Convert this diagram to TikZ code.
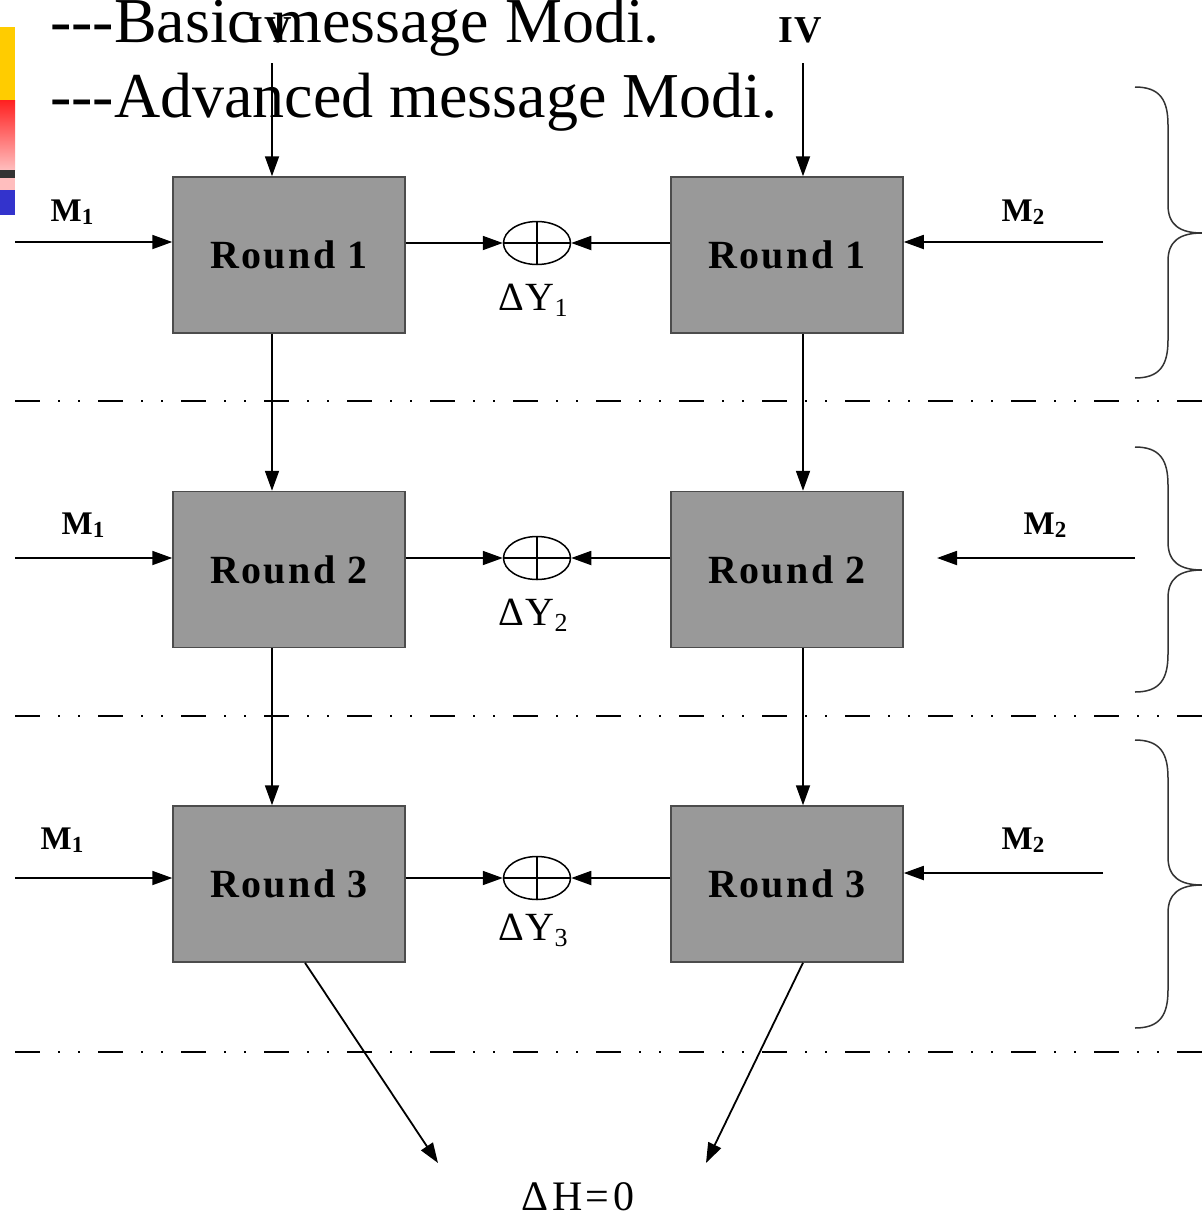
\documentclass[tikz,border=0pt]{standalone}
\usepackage{fontspec}
\setmainfont{Liberation Serif}
\usetikzlibrary{arrows.meta,shapes.geometric}
\definecolor{baryellow}{RGB}{255,204,0}
\definecolor{barred}{RGB}{255,32,32}
\definecolor{barpink}{RGB}{255,190,190}
\definecolor{barblue}{RGB}{51,51,204}
\begin{document}
\begin{tikzpicture}[x=1pt,y=-1pt,
  roundbox/.style={draw=black!70,line width=1.5pt,fill=black!40,minimum width=232pt,minimum height=156pt,inner sep=0pt,font=\fontsize{40}{42}\selectfont\bfseries\addfontfeatures{LetterSpace=6}},
  arr/.style={line width=1.8pt,-{Triangle[length=20pt,width=14pt]}},
  xorop/.style={draw,ellipse,line width=1.5pt,minimum width=67pt,minimum height=43pt,inner sep=0pt},
  mlab/.style={inner sep=0pt,font=\fontsize{33}{35}\selectfont\bfseries},
  dylab/.style={inner sep=0pt,font=\fontsize{40}{42}\selectfont\addfontfeatures{LetterSpace=4}},
  sepline/.style={line width=1.5pt,dash pattern=on 25pt off 18pt on 2pt off 18pt on 2pt off 18pt},
  bracepath/.style={line width=1.5pt,black!80},
  ivlab/.style={inner sep=0pt,font=\fontsize{38}{40}\selectfont\bfseries\addfontfeatures{LetterSpace=4}},
  toptext/.style={inner sep=0pt,anchor=base west,font=\fontsize{64}{66}\selectfont}
]
\useasboundingbox (0,0) rectangle (1202,1216);
\fill[white] (0,0) rectangle (1202,1216);
% colour bars
\fill[baryellow] (0,27) rectangle (15,100);
\shade[top color=barred,bottom color=barpink] (0,100) rectangle (15,170);
\fill[black!80] (0,170) rectangle (15,178);
\fill[barpink] (0,178) rectangle (15,190);
\fill[barblue] (0,190) rectangle (15,215);

% boxes
\node[roundbox] (L1) at (289,255) {Round 1};
\node[roundbox] (L2) at (289,569.5) {Round 2};
\node[roundbox] (L3) at (289,884) {Round 3};
\node[roundbox] (R1) at (787,255) {Round 1};
\node[roundbox] (R2) at (787,569.5) {Round 2};
\node[roundbox] (R3) at (787,884) {Round 3};

% xor
\node[xorop] (X1) at (537,243) {};
\node[xorop] (X2) at (537,558) {};
\node[xorop] (X3) at (537,878) {};
\foreach \x in {X1,X2,X3}{
  \draw[line width=1.5pt] (\x.north) -- (\x.south);
  \draw[line width=1.5pt] (\x.west) -- (\x.east);
}
\foreach \i in {1,2,3}{
  \draw[arr] (L\i.east |- X\i) -- (X\i.west);
  \draw[arr] (R\i.west |- X\i) -- (X\i.east);
}
\node[dylab] (DY1) at (533,300) {ΔY\raisebox{-6pt}{\fontsize{26}{26}\selectfont 1}};
\node[dylab] (DY2) at (533,615) {ΔY\raisebox{-6pt}{\fontsize{26}{26}\selectfont 2}};
\node[dylab] (DY3) at (533,930) {ΔY\raisebox{-6pt}{\fontsize{26}{26}\selectfont 3}};

% IV
\node[ivlab] (IVL) at (270,30) {IV};
\node[ivlab] (IVR) at (800,30) {IV};
\coordinate (ivl) at (272,63);
\coordinate (ivr) at (803,63);
\draw[arr] (ivl) -- (ivl |- L1.north);
\draw[arr] (ivr) -- (ivr |- R1.north);
\draw[arr] (L1.south -| ivl) -- (L2.north -| ivl);
\draw[arr] (L2.south -| ivl) -- (L3.north -| ivl);
\draw[arr] (R1.south -| ivr) -- (R2.north -| ivr);
\draw[arr] (R2.south -| ivr) -- (R3.north -| ivr);

% M1 inputs
\coordinate (m1a) at (15,242);
\coordinate (m1b) at (15,558);
\coordinate (m1c) at (15,878);
\draw[arr] (m1a) -- (m1a -| L1.west);
\draw[arr] (m1b) -- (m1b -| L2.west);
\draw[arr] (m1c) -- (m1c -| L3.west);
\node[mlab] (M1a) at (72,212) {M\raisebox{-3pt}{\fontsize{23}{23}\selectfont 1}};
\node[mlab] (M1b) at (83,525) {M\raisebox{-3pt}{\fontsize{23}{23}\selectfont 1}};
\node[mlab] (M1c) at (62,840) {M\raisebox{-3pt}{\fontsize{23}{23}\selectfont 1}};

% M2 inputs
\coordinate (m2a) at (1103,242);
\coordinate (m2b) at (1135,558);
\coordinate (m2bend) at (937,558);
\coordinate (m2c) at (1103,873);
\draw[arr] (m2a) -- (m2a -| R1.east);
\draw[arr] (m2b) -- (m2bend);
\draw[arr] (m2c) -- (m2c -| R3.east);
\node[mlab] (M2a) at (1023,212) {M\raisebox{-3pt}{\fontsize{23}{23}\selectfont 2}};
\node[mlab] (M2b) at (1045,525) {M\raisebox{-3pt}{\fontsize{23}{23}\selectfont 2}};
\node[mlab] (M2c) at (1023,840) {M\raisebox{-3pt}{\fontsize{23}{23}\selectfont 2}};

% separators
\draw[sepline] (15,401) -- (1202,401);
\draw[sepline] (15,716) -- (1202,716);
\draw[sepline] (15,1052) -- (1202,1052);

% braces
\draw[bracepath] (1135,87) .. controls (1160,87) and (1168,100) .. (1168,125) -- (1168,205) .. controls (1168,225) and (1180,233) .. (1202,233) .. controls (1180,233) and (1168,241) .. (1168,261) -- (1168,340) .. controls (1168,365) and (1160,378) .. (1135,378);
\draw[bracepath] (1135,447) .. controls (1160,447) and (1168,460) .. (1168,485) -- (1168,542) .. controls (1168,562) and (1180,570) .. (1202,570) .. controls (1180,570) and (1168,578) .. (1168,598) -- (1168,654) .. controls (1168,679) and (1160,692) .. (1135,692);
\draw[bracepath] (1135,740) .. controls (1160,740) and (1168,753) .. (1168,778) -- (1168,857) .. controls (1168,877) and (1180,885) .. (1202,885) .. controls (1180,885) and (1168,893) .. (1168,913) -- (1168,990) .. controls (1168,1015) and (1160,1028) .. (1135,1028);

% outputs
\coordinate (outl) at (438,1163);
\coordinate (outr) at (706,1163);
\draw[arr] (L3.south -| 305,0) -- (outl);
\draw[arr] (R3.south -| ivr) -- (outr);
\node[inner sep=0pt,font=\fontsize{42}{44}\selectfont\addfontfeatures{LetterSpace=8}] (DH) at (578,1197) {ΔH=0};

% slide text on top
\node[toptext] (T1) at (50,42) {-{}-{}-Basic message Modi.};
\node[toptext] (T2) at (50,117) {-{}-{}-Advanced message Modi.};
\end{tikzpicture}
\end{document}
